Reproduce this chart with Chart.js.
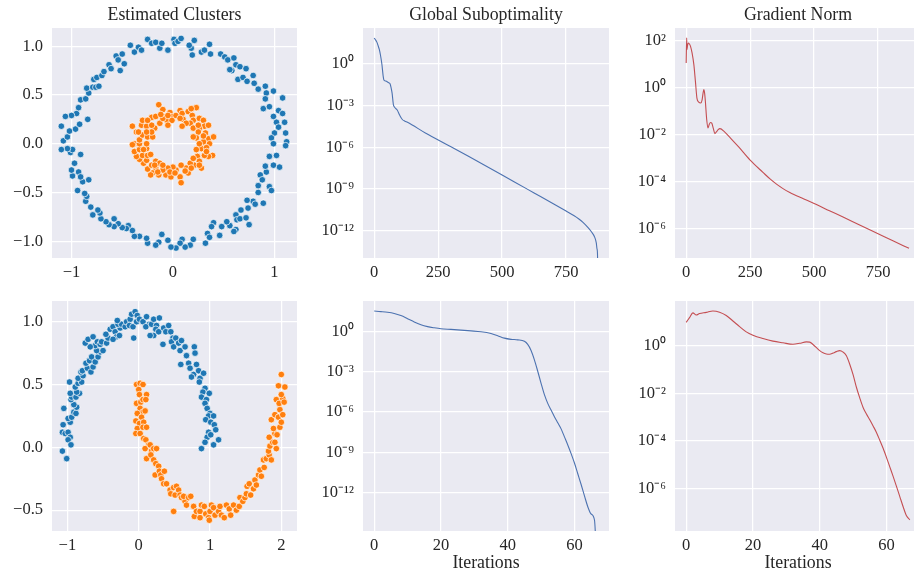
<!DOCTYPE html>
<html><head><meta charset="utf-8">
<script src="https://cdn.jsdelivr.net/npm/chart.js@4.4.1/dist/chart.umd.min.js"></script>
<style>
html,body{margin:0;padding:0;background:#fff;width:914px;height:571px;overflow:hidden;position:relative}
canvas{position:absolute}
</style></head><body>
<canvas id="c11"></canvas><canvas id="c12"></canvas><canvas id="c13"></canvas>
<canvas id="c21"></canvas><canvas id="c22"></canvas><canvas id="c23"></canvas>
<script>
// ---------- data ----------
// Row 1: concentric circles
const circOuterX = [-0.42,-0.38,-0.34,-0.25,-0.21,-0.17,-0.13,-0.11,-0.05,0.01,0.02,0.05,0.08,0.18,0.19,0.21,0.28,0.31,0.36,0.37,0.47,0.51,0.54,0.60,0.58,0.62,0.64,0.66,0.69,0.72,0.73,0.79,0.80,0.84,0.91,0.92,0.91,0.99,0.89,0.95,1.08,1.04,1.08,0.99,1.02,1.04,1.10,1.00,1.11,0.97,1.12,1.11,0.99,1.02,0.95,0.99,1.05,0.92,0.91,0.86,0.88,0.95,0.97,0.84,0.84,0.89,0.79,0.73,0.81,0.74,0.67,0.62,0.63,0.66,0.72,0.75,0.62,0.60,0.56,0.53,0.48,0.46,0.40,0.38,0.34,0.36,0.32,0.20,0.17,0.12,0.09,0.07,0.03,-0.02,-0.05,-0.11,-0.14,-0.17,-0.25,-0.26,-0.33,-0.38,-0.40,-0.44,-0.46,-0.50,-0.54,-0.58,-0.58,-0.63,-0.66,-0.71,-0.72,-0.74,-0.79,-0.81,-0.86,-0.85,-0.87,-0.94,-0.89,-0.83,-0.93,-0.91,-0.99,-1.00,-0.97,-0.91,-1.01,-0.99,-1.04,-1.10,-1.08,-1.04,-1.02,-0.96,-0.92,-0.84,-0.95,-0.93,-1.00,-1.06,-1.10,-0.91,-0.86,-0.83,-0.85,-0.79,-0.76,-0.73,-0.78,-0.75,-0.70,-0.68,-0.63,-0.61,-0.56,-0.54,-0.52,-0.50,-0.48,-0.31,0.16,0.56];
const circOuterY = [1.01,0.94,0.99,1.07,1.03,1.04,0.98,1.03,0.96,1.07,1.03,1.05,1.08,0.98,0.91,1.06,0.94,0.96,1.02,0.92,0.92,0.89,0.86,0.88,0.75,0.81,0.66,0.79,0.68,0.77,0.64,0.70,0.62,0.56,0.59,0.52,0.46,0.54,0.36,0.38,0.47,0.34,0.31,0.28,0.22,0.17,0.22,0.11,0.11,0.06,0.02,-0.02,0.00,-0.12,-0.13,-0.22,-0.24,-0.29,-0.23,-0.32,-0.37,-0.44,-0.48,-0.43,-0.50,-0.61,-0.59,-0.58,-0.62,-0.66,-0.68,-0.73,-0.78,-0.77,-0.76,-0.83,-0.88,-0.90,-0.84,-0.80,-0.85,-0.94,-0.81,-0.85,-0.92,-0.96,-1.02,-0.98,-1.04,-1.06,-0.98,-1.02,-1.07,-1.06,-0.99,-0.93,-1.01,-1.04,-1.02,-0.97,-0.95,-0.95,-0.89,-0.84,-0.87,-0.86,-0.82,-0.77,-0.85,-0.83,-0.80,-0.77,-0.71,-0.68,-0.73,-0.65,-0.59,-0.54,-0.51,-0.48,-0.39,-0.37,-0.29,-0.34,-0.33,-0.27,-0.20,-0.11,-0.09,-0.06,-0.05,-0.06,0.03,0.07,0.13,0.15,0.20,0.25,0.31,0.37,0.29,0.28,0.18,0.45,0.46,0.52,0.57,0.58,0.58,0.59,0.66,0.68,0.70,0.74,0.81,0.77,0.90,0.86,0.75,0.92,0.82,0.96,1.01,0.76];
const circInnerX = [-0.14,-0.10,-0.07,-0.03,0.00,-0.06,-0.01,0.03,0.07,0.09,0.10,0.15,0.19,0.23,0.20,0.17,0.26,0.30,0.31,0.35,0.20,0.26,0.25,0.32,0.35,0.40,0.36,0.30,0.23,0.28,0.33,0.39,0.35,0.31,0.24,0.26,0.21,0.28,0.17,0.13,0.15,0.08,0.03,0.00,-0.05,-0.07,-0.02,0.07,0.08,-0.10,-0.14,-0.17,-0.20,-0.22,-0.25,-0.21,-0.29,-0.26,-0.33,-0.36,-0.30,-0.25,-0.38,-0.33,-0.26,-0.38,-0.33,-0.26,-0.33,-0.30,-0.25,-0.20,-0.36,-0.40,-0.31,-0.26,-0.30,-0.21,-0.17,-0.13,-0.10,-0.12,-0.18,-0.21,-0.21,-0.26,0.26,0.23,0.33,0.26,0.30,0.20,0.25,0.13,0.09,-0.05,-0.17,-0.13,-0.10,-0.03,0.02,0.12,0.20,0.18,-0.15,-0.18,-0.22,-0.29,-0.40,-0.34,-0.25,-0.05,0.07,0.18];
const circInnerY = [0.40,0.35,0.28,0.32,0.28,0.24,0.24,0.29,0.34,0.31,0.25,0.33,0.29,0.37,0.24,0.21,0.26,0.24,0.18,0.19,0.16,0.16,0.12,0.11,0.05,0.07,0.00,0.02,0.06,-0.05,-0.04,-0.12,-0.13,-0.12,-0.13,-0.18,-0.22,-0.25,-0.20,-0.25,-0.30,-0.22,-0.27,-0.24,-0.25,-0.32,-0.34,-0.34,-0.40,-0.27,-0.32,-0.25,-0.30,-0.32,-0.26,-0.22,-0.20,-0.17,-0.16,-0.13,-0.12,-0.12,-0.08,-0.06,-0.05,0.00,0.00,0.00,0.04,0.09,0.07,0.07,0.12,0.18,0.19,0.18,0.24,0.27,0.28,0.21,0.26,0.30,0.16,0.19,0.12,0.12,-0.22,-0.06,-0.08,0.00,0.08,0.07,0.19,0.21,0.18,0.29,-0.18,-0.20,-0.22,-0.29,-0.30,-0.28,-0.15,-0.25,-0.29,-0.22,-0.11,-0.06,-0.01,0.12,0.24,0.19,0.26,0.36];
const circSubIter  = [0,5,10,15,20,25,30,35,38,45,55,62,66,70,75,80,90,100,110,120,130,200,300,400,500,600,650,700,750,780,800,816,835,849,862,868,871,873,874];
const circSubLog10 = [1.87,1.75,1.6,1.35,1.05,0.6,0.0,-0.85,-1.15,-1.23,-1.33,-1.42,-1.7,-2.1,-2.92,-3.12,-3.32,-3.7,-4.0,-4.12,-4.2,-4.97,-5.96,-6.98,-8.0,-9.04,-9.55,-10.07,-10.6,-10.93,-11.18,-11.42,-11.78,-12.1,-12.5,-12.9,-13.35,-13.9,-20];
const circGradIter  = [0,2,3,5,8,12,17,23,30,36,42,49,57,62,66,69,72,75,80,85,90,95,100,106,112,118,125,132,150,175,206,249,300,330,353,380,405,450,500,560,613,680,750,810,871];
const circGradLog10 = [1.03,2.1,1.6,1.75,1.88,1.85,1.74,1.46,0.96,0.26,-0.46,-0.63,-0.67,-0.55,-0.25,-0.10,-0.25,-0.6,-1.35,-1.73,-1.58,-1.5,-1.52,-1.75,-1.97,-1.9,-1.8,-1.76,-1.9,-2.18,-2.55,-3.09,-3.62,-3.92,-4.12,-4.32,-4.47,-4.7,-4.94,-5.25,-5.52,-5.87,-6.23,-6.54,-6.85];
// Row 2: two moons
const moonUpperX = [-1.07,-1.01,-1.05,-1.06,-1.07,-1.03,-0.99,-0.96,-0.99,-0.95,-0.96,-0.99,-0.94,-0.91,-0.88,-0.87,-0.91,-0.95,-0.94,-0.88,-0.83,-0.87,-0.96,-0.97,-0.89,-0.85,-0.80,-0.85,-0.78,-0.81,-0.79,-0.72,-0.74,-0.69,-0.67,-0.64,-0.66,-0.61,-0.57,-0.54,-0.59,-0.61,-0.68,-0.75,-0.71,-0.64,-0.58,-0.54,-0.50,-0.52,-0.45,-0.43,-0.46,-0.40,-0.36,-0.33,-0.31,-0.36,-0.27,-0.26,-0.29,-0.24,-0.30,-0.19,-0.17,-0.12,-0.10,-0.05,-0.13,-0.08,-0.03,-0.07,-0.02,0.01,0.06,0.11,0.15,0.10,0.18,0.21,0.25,0.29,0.24,0.21,0.16,0.28,0.34,0.35,0.38,0.42,0.45,0.48,0.46,0.52,0.49,0.56,0.60,0.58,0.65,0.59,0.67,0.70,0.78,0.79,0.72,0.77,0.74,0.81,0.84,0.86,0.85,0.91,0.93,0.90,0.88,0.95,0.99,0.93,0.96,1.00,0.98,1.05,0.94,1.01,1.06,1.08,0.98,0.96,1.01,1.05,1.12,0.88,0.93];
const moonUpperY = [-0.03,-0.09,0.31,0.18,0.12,0.11,0.12,0.08,0.06,0.02,0.20,0.23,0.24,0.28,0.27,0.32,0.34,0.38,0.40,0.40,0.43,0.44,0.43,0.52,0.48,0.51,0.52,0.55,0.57,0.60,0.61,0.63,0.67,0.69,0.60,0.64,0.72,0.68,0.72,0.76,0.77,0.81,0.80,0.83,0.86,0.88,0.84,0.82,0.77,0.84,0.83,0.87,0.90,0.94,0.96,0.92,0.88,0.86,0.89,0.95,0.98,0.98,1.01,0.96,1.00,1.02,1.06,1.08,0.97,0.96,1.00,0.87,1.05,1.02,1.00,1.04,0.98,0.96,0.98,1.02,0.97,1.03,0.94,0.89,0.89,0.92,0.82,0.95,0.92,0.97,0.92,0.87,0.84,0.87,0.80,0.83,0.85,0.77,0.80,0.66,0.73,0.67,0.80,0.75,0.63,0.58,0.56,0.66,0.61,0.55,0.52,0.59,0.47,0.44,0.40,0.38,0.43,0.35,0.31,0.27,0.25,0.25,0.22,0.20,0.18,0.14,0.12,0.08,0.10,0.02,0.06,-0.01,0.04];
const moonLowerX = [-0.03,0.02,0.06,0.00,0.01,-0.03,0.03,0.06,0.11,0.10,0.02,0.06,-0.02,0.04,0.09,-0.04,0.01,0.07,-0.02,0.06,0.11,-0.04,0.02,0.07,0.10,0.14,0.09,0.16,0.18,0.11,0.17,0.21,0.25,0.21,0.24,0.28,0.23,0.29,0.31,0.36,0.32,0.35,0.39,0.44,0.45,0.49,0.51,0.53,0.56,0.58,0.60,0.65,0.67,0.63,0.70,0.73,0.77,0.78,0.81,0.86,0.88,0.92,0.94,0.98,1.00,1.02,1.05,1.07,1.12,1.14,1.16,1.20,1.23,1.27,1.29,1.33,1.37,1.41,1.42,1.46,1.49,1.51,1.52,1.55,1.57,1.61,1.63,1.65,1.68,1.70,1.72,1.76,1.75,1.79,1.83,1.86,1.82,1.84,1.88,1.83,1.91,1.93,1.91,1.89,1.94,1.98,1.86,1.91,1.96,1.98,2.00,2.02,1.93,1.97,2.02,2.04,2.00,1.96,2.05,2.00,0.49,0.86,0.99];
const moonLowerY = [0.50,0.51,0.50,0.46,0.42,0.35,0.36,0.38,0.42,0.38,0.31,0.28,0.27,0.24,0.29,0.21,0.19,0.20,0.15,0.16,0.16,0.11,0.11,0.07,0.06,0.02,-0.01,0.02,-0.03,-0.09,-0.06,-0.01,-0.01,-0.10,-0.13,-0.15,-0.22,-0.19,-0.22,-0.19,-0.25,-0.29,-0.29,-0.34,-0.37,-0.32,-0.38,-0.31,-0.34,-0.38,-0.40,-0.43,-0.46,-0.39,-0.40,-0.39,-0.47,-0.55,-0.51,-0.51,-0.46,-0.47,-0.53,-0.56,-0.51,-0.46,-0.48,-0.54,-0.51,-0.47,-0.54,-0.56,-0.46,-0.49,-0.54,-0.46,-0.50,-0.47,-0.40,-0.43,-0.40,-0.37,-0.31,-0.29,-0.38,-0.33,-0.26,-0.30,-0.22,-0.18,-0.23,-0.16,-0.10,-0.09,-0.06,-0.10,-0.03,0.01,0.04,0.08,0.04,-0.01,0.11,0.15,0.10,0.16,0.22,0.26,0.24,0.30,0.20,0.26,0.38,0.35,0.39,0.36,0.42,0.49,0.48,0.58,-0.51,-0.56,-0.58];
const moonSubIter  = [0,2,4,6,8,10,12,14,16,18,20,23,26,29,32,35,37,39,41,43,45,46,47,48,49,50,51,52,53,54,55,56,57,58,59,60,61,62,63,64,65,66,67];
const moonSubLog10 = [1.54,1.50,1.45,1.36,1.2,0.97,0.73,0.52,0.38,0.29,0.22,0.17,0.12,0.06,-0.01,-0.14,-0.30,-0.48,-0.57,-0.61,-0.72,-0.95,-1.4,-2.1,-2.95,-3.85,-4.7,-5.35,-5.85,-6.35,-6.8,-7.25,-7.85,-8.45,-9.1,-9.8,-10.6,-11.4,-12.25,-13.06,-13.6,-14.05,-20];
const moonGradIter  = [0,1,2,3,4,6,8,10,12,14,16,18,20,23,26,29,32,34,36,37,38,40,41,42,43,44,45,46,47,48,49,50,51,52,53,54,55,56,57,58,59,60,61,62,63,64,65,66,67];
const moonGradLog10 = [0.98,1.18,1.38,1.29,1.35,1.40,1.46,1.41,1.27,1.04,0.80,0.58,0.44,0.30,0.19,0.12,0.06,0.10,0.16,0.15,0.05,-0.21,-0.30,-0.35,-0.36,-0.31,-0.25,-0.21,-0.27,-0.42,-0.78,-1.22,-1.75,-2.2,-2.6,-2.88,-3.12,-3.38,-3.65,-3.98,-4.32,-4.7,-5.1,-5.5,-5.92,-6.35,-6.78,-7.16,-7.33];
// tick positions
const circXTicks = [-1,0,1];
const circYTicks = [-1,-0.5,0,0.5,1];
const moonXTicks = [-1,0,1,2];
const moonYTicks = [-0.5,0,0.5,1];
const circIterTicks = [0,250,500,750];
const moonIterTicks = [0,20,40,60];
const subTickExp = [0,-3,-6,-9,-12];
const circGradTickExp = [2,0,-2,-4,-6];
const moonGradTickExp = [0,-2,-4,-6];
const titles = ['Estimated Clusters','Global Suboptimality','Gradient Norm'];
const xLabel = 'Iterations';

// ---------- styling / helpers ----------
const FONT = "'Liberation Serif','Times New Roman',serif";
const TXT = '#262626';
const FS = 16.5;     // tick labels
const FT = 17.8;     // titles and axis label
const SUP = {'0':'⁰','1':'¹','2':'²','3':'³','4':'⁴','5':'⁵','6':'⁶','7':'⁷','8':'⁸','9':'⁹','-':'⁻'};
const logLabel = v => '10' + String(Math.round(Math.log10(v))).split('').map(c => SUP[c]).join('');
const lin = d => v => (v < 0 ? '−' : '') + Math.abs(v).toFixed(d);
const pow = a => a.map(e => Math.pow(10, e));
const pts = (X, Y) => X.map((x, i) => ({x: x, y: Y[i]}));

const bgPlugin = {id:'bg', beforeDraw(chart){
  const {ctx, chartArea:a} = chart; ctx.save(); ctx.fillStyle = '#EAEAF2';
  ctx.fillRect(a.left, a.top, a.right - a.left, a.bottom - a.top); ctx.restore(); }};
const titlePlugin = {id:'ptitle', afterDraw(chart, args, opts){
  if (!opts.text) return; const {ctx, chartArea:a} = chart; ctx.save();
  ctx.font = FT + 'px ' + FONT; ctx.fillStyle = TXT; ctx.textAlign = 'center'; ctx.textBaseline = 'middle';
  ctx.fillText(opts.text, (a.left + a.right) / 2, opts.y); ctx.restore(); }};

function makeChart(id, box, cfg){
  const cv = document.getElementById(id);
  cv.width = box.w; cv.height = box.h;
  Object.assign(cv.style, {left: box.x + 'px', top: box.y + 'px', width: box.w + 'px', height: box.h + 'px'});
  const axis = (a, isX) => {
    const o = {
      type: a.type || 'linear', min: a.min, max: a.max,
      afterBuildTicks: s => { s.ticks = a.ticks.map(v => ({value: v})); },
      afterFit: s => { if (isX) s.height = box.xH; else s.width = box.yW; },
      grid: {color: '#ffffff', lineWidth: 1.25, drawTicks: false},
      border: {display: false},
      ticks: {padding: isX ? 5 : 9, color: TXT, font: {family: FONT, size: FS}, autoSkip: false, maxRotation: 0, callback: a.fmt}
    };
    if (a.title) o.title = {display: true, text: a.title, color: TXT, font: {family: FONT, size: FT}, padding: {top: 0, bottom: 1}};
    return o;
  };
  return new Chart(cv, {
    type: cfg.type,
    data: {datasets: cfg.datasets},
    options: {
      responsive: false, animation: false, events: [], devicePixelRatio: 1,
      layout: {padding: {top: box.padTop, right: box.padRight, left: 0, bottom: 0}},
      scales: {x: axis(cfg.x, true), y: axis(cfg.y, false)},
      plugins: {legend: {display: false}, tooltip: {enabled: false}, ptitle: {text: cfg.title || '', y: 15}}
    },
    plugins: [bgPlugin, titlePlugin]
  });
}
const scat = (X, Y, c) => ({data: pts(X, Y), pointRadius: 3.3, pointBackgroundColor: c, pointBorderColor: '#ffffff', pointBorderWidth: 0.7});
const line = (X, E, c) => ({data: pts(X, pow(E)), borderColor: c, borderWidth: 1.1, pointRadius: 0, cubicInterpolationMode: 'monotone', fill: false});
const BLUE = '#1f77b4', ORANGE = '#ff7f0e', LBLUE = '#4c72b0', LRED = '#c44e52';

const rowTop = {y: 0, h: 285, padTop: 28, xH: 27};
const rowBot = {y: 270, h: 305, padTop: 31, xH: 44};
const col1 = {x: 0, w: 305, yW: 52, padRight: 8};
const col2 = {x: 305, w: 310, yW: 58, padRight: 6};
const col3 = {x: 615, w: 308, yW: 60, padRight: 2};

makeChart('c11', Object.assign({}, rowTop, col1), {type: 'scatter', title: titles[0],
  datasets: [scat(circOuterX, circOuterY, BLUE), scat(circInnerX, circInnerY, ORANGE)],
  x: {min: -1.192, max: 1.222, ticks: circXTicks, fmt: lin(0)},
  y: {min: -1.172, max: 1.187, ticks: circYTicks, fmt: lin(1)}});
makeChart('c12', Object.assign({}, rowTop, col2), {type: 'line', title: titles[1],
  datasets: [line(circSubIter, circSubLog10, LBLUE)],
  x: {min: -43.7, max: 917.7, ticks: circIterTicks, fmt: lin(0)},
  y: {type: 'logarithmic', min: Math.pow(10, -13.99), max: Math.pow(10, 2.6), ticks: pow(subTickExp), fmt: logLabel}});
makeChart('c13', Object.assign({}, rowTop, col3), {type: 'line', title: titles[2],
  datasets: [line(circGradIter, circGradLog10, LRED)],
  x: {min: -43.7, max: 917.7, ticks: circIterTicks, fmt: lin(0)},
  y: {type: 'logarithmic', min: Math.pow(10, -7.26), max: Math.pow(10, 2.52), ticks: pow(circGradTickExp), fmt: logLabel}});
makeChart('c21', Object.assign({}, rowBot, col1), {type: 'scatter',
  datasets: [scat(moonUpperX, moonUpperY, BLUE), scat(moonLowerX, moonLowerY, ORANGE)],
  x: {min: -1.216, max: 2.22, ticks: moonXTicks, fmt: lin(0)},
  y: {min: -0.666, max: 1.165, ticks: moonYTicks, fmt: lin(1)}});
makeChart('c22', Object.assign({}, rowBot, col2), {type: 'line',
  datasets: [line(moonSubIter, moonSubLog10, LBLUE)],
  x: {min: -3.35, max: 70.35, ticks: moonIterTicks, fmt: lin(0), title: xLabel},
  y: {type: 'logarithmic', min: Math.pow(10, -14.87), max: Math.pow(10, 2.29), ticks: pow(subTickExp), fmt: logLabel}});
makeChart('c23', Object.assign({}, rowBot, col3), {type: 'line',
  datasets: [line(moonGradIter, moonGradLog10, LRED)],
  x: {min: -3.35, max: 70.35, ticks: moonIterTicks, fmt: lin(0), title: xLabel},
  y: {type: 'logarithmic', min: Math.pow(10, -7.8), max: Math.pow(10, 1.88), ticks: pow(moonGradTickExp), fmt: logLabel}});
</script>
</body></html>
